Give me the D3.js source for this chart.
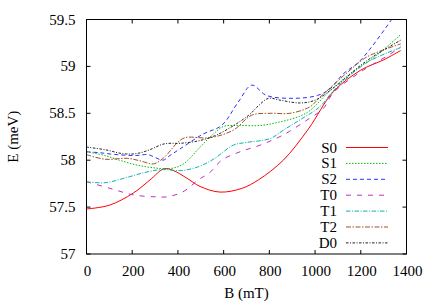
<!DOCTYPE html>
<html>
<head>
<meta charset="utf-8">
<script src="https://d3js.org/d3.v7.min.js"></script>
</head>
<body style="margin:0">
<script>
// values: [B (mT), E (meV)]
var S0 = [[0,57.48],[100,57.52],[205,57.65],[278,57.79],[340,57.91],[380,57.89],[438,57.81],[497,57.72],
          [584,57.66],[680,57.7],[752,57.79],[861,58.0],[970,58.33],[1080,58.73],[1200,58.96],[1300,59.07],[1375,59.17]];
var S1 = [[0,58.09],[80,58.05],[144,58.0],[217,57.95],[290,57.92],[365,57.91],[424,57.96],[497,58.14],[555,58.28],
          [600,58.36],[657,58.37],[759,58.37],[850,58.41],[934,58.47],[978,58.53],[1065,58.74],[1153,58.92],[1270,59.12],[1375,59.34]];
var S2 = [[0,58.09],[56,58.08],[129,58.06],[217,58.05],[268,58.06],[300,58.03],[335,58.0],[365,58.05],[409,58.12],
          [511,58.28],[591,58.37],[664,58.62],[723,58.8],[788,58.69],[905,58.66],[1010,58.69],[1065,58.76],[1123,58.92],[1197,59.06],[1335,59.5]];
var T0 = [[0,57.77],[103,57.7],[205,57.63],[300,57.61],[351,57.61],[420,57.66],[489,57.79],[540,57.87],[591,58.0],
          [672,58.09],[759,58.16],[861,58.27],[978,58.45],[1036,58.55],[1080,58.72],[1211,58.96],[1328,59.13],[1375,59.21]];
var T1 = [[0,57.77],[81,57.76],[168,57.81],[256,57.87],[329,57.9],[416,57.89],[489,57.93],[555,58.01],[642,58.16],
          [701,58.19],[803,58.23],[861,58.32],[934,58.43],[1021,58.57],[1080,58.74],[1226,59.04],[1375,59.2]];
var T2 = [[0,58.06],[81,58.01],[178,58.02],[240,57.99],[292,57.96],[340,58.03],[395,58.18],[431,58.24],[540,58.24],
          [642,58.32],[723,58.48],[803,58.5],[890,58.5],[978,58.57],[1021,58.67],[1153,58.96],[1226,59.1],[1375,59.24]];
var D0 = [[0,58.14],[85,58.11],[158,58.07],[217,58.07],[275,58.11],[333,58.17],[365,58.18],[409,58.18],[497,58.21],
          [570,58.27],[657,58.39],[715,58.49],[752,58.58],[796,58.66],[847,58.64],[934,58.61],[1000,58.64],[1080,58.77],[1226,59.06],[1375,59.28]];

var names = ["S0", "S1", "S2", "T0", "T1", "T2", "D0"];
var xTicks = [0, 200, 400, 600, 800, 1000, 1200, 1400];
var yTicks = [57, 57.5, 58, 58.5, 59, 59.5];

var series = [
  {name: "S0", data: S0, color: "#ff0000", dash: null},
  {name: "S1", data: S1, color: "#00c000", dash: "1.5,1.5"},
  {name: "S2", data: S2, color: "#3030ff", dash: "4,3"},
  {name: "T0", data: T0, color: "#c030c0", dash: "5,6"},
  {name: "T1", data: T1, color: "#10b0b0", dash: "4.5,1.5,1,1.5"},
  {name: "T2", data: T2, color: "#a0522d", dash: "5,1.5,1.5,1.5"},
  {name: "D0", data: D0, color: "#222222", dash: "2.5,1.5,1,1.5"}
];

var W = 435, H = 305;
var m = {left: 86.5, right: 28.5, top: 19.5, bottom: 51};
var pw = W - m.left - m.right, ph = H - m.top - m.bottom;
var font = "'Liberation Serif', 'Times New Roman', Tinos, FreeSerif, serif";
var fs = 15;

var svg = d3.select("body").append("svg").attr("width", W).attr("height", H)
  .style("font-family", font);

var x = d3.scaleLinear().domain([0, 1400]).range([m.left, m.left + pw]);
var y = d3.scaleLinear().domain([57, 59.5]).range([m.top + ph, m.top]);

svg.append("clipPath").attr("id", "clip")
  .append("rect").attr("x", m.left).attr("y", m.top).attr("width", pw).attr("height", ph);

// ticks on all four sides, pointing in
var tl = 4;
svg.append("g").selectAll("line").data(xTicks).enter().append("line")
  .attr("x1", function(d) { return x(d); }).attr("x2", function(d) { return x(d); })
  .attr("y1", m.top + ph).attr("y2", m.top + ph - tl).attr("stroke", "#000");
svg.append("g").selectAll("line").data(xTicks).enter().append("line")
  .attr("x1", function(d) { return x(d); }).attr("x2", function(d) { return x(d); })
  .attr("y1", m.top).attr("y2", m.top + tl).attr("stroke", "#000");
svg.append("g").selectAll("line").data(yTicks).enter().append("line")
  .attr("x1", m.left).attr("x2", m.left + tl)
  .attr("y1", function(d) { return y(d); }).attr("y2", function(d) { return y(d); }).attr("stroke", "#000");
svg.append("g").selectAll("line").data(yTicks).enter().append("line")
  .attr("x1", m.left + pw).attr("x2", m.left + pw - tl)
  .attr("y1", function(d) { return y(d); }).attr("y2", function(d) { return y(d); }).attr("stroke", "#000");

svg.append("g").selectAll("text").data(xTicks).enter().append("text")
  .attr("x", function(d) { return x(d) + 1; }).attr("y", 275.5)
  .style("font-family", font).style("font-size", fs + "px")
  .attr("text-anchor", "middle").text(function(d) { return d; });
svg.append("g").selectAll("text").data(yTicks).enter().append("text")
  .attr("x", 75.5).attr("y", function(d) { return y(d) + 5; })
  .style("font-family", font).style("font-size", fs + "px")
  .attr("text-anchor", "end").text(function(d) { return d; });

svg.append("text").attr("x", m.left + pw / 2).attr("y", 298)
  .style("font-family", font).style("font-size", fs + "px")
  .attr("text-anchor", "middle").text("B (mT)");
svg.append("text").attr("transform", "translate(18," + (m.top + ph / 2) + ") rotate(-90)")
  .style("font-family", font).style("font-size", fs + "px")
  .attr("text-anchor", "middle").text("E (meV)");

var line = d3.line()
  .x(function(d) { return x(d[0]); })
  .y(function(d) { return y(d[1]); })
  .curve(d3.curveCatmullRom.alpha(0.5));

var g = svg.append("g").attr("clip-path", "url(#clip)");
series.forEach(function(s) {
  g.append("path").datum(s.data)
    .attr("d", line)
    .attr("fill", "none")
    .attr("stroke", s.color)
    .attr("stroke-width", 1)
    .attr("stroke-dasharray", s.dash);
});

// legend
var leg = svg.append("g");
series.forEach(function(s, i) {
  var ly = 147.5 + i * 15.9;
  leg.append("text").attr("x", 337).attr("y", ly + 5)
    .style("font-family", font).style("font-size", fs + "px")
    .attr("text-anchor", "end").text(s.name);
  leg.append("line").attr("x1", 346).attr("x2", 388).attr("y1", ly).attr("y2", ly)
    .attr("stroke", s.color).attr("stroke-width", 1).attr("stroke-dasharray", s.dash);
});

svg.append("rect").attr("x", m.left).attr("y", m.top).attr("width", pw).attr("height", ph)
  .attr("fill", "none").attr("stroke", "#000").attr("stroke-width", 1);
</script>
</body>
</html>
